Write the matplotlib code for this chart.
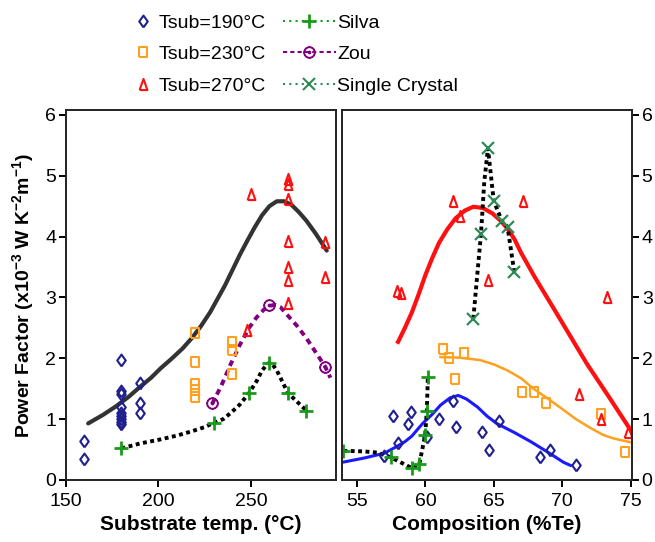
import numpy as np
import matplotlib
matplotlib.use("Agg")
import matplotlib.pyplot as plt
from matplotlib.lines import Line2D

plt.rcParams['font.family'] = ['Liberation Sans', 'DejaVu Sans']
plt.rcParams['mathtext.fontset'] = 'custom'
plt.rcParams['mathtext.rm'] = 'Liberation Sans'
plt.rcParams['mathtext.bf'] = 'Liberation Sans:bold'

# ---- left panel: power factor vs substrate temperature ----
t190_x = [160, 160, 180, 180, 180, 180, 180, 180, 180, 180, 180, 190, 190, 190]
t190_y = [0.64, 0.34, 1.98, 1.47, 1.42, 1.2, 1.1, 1.05, 1.0, 0.96, 0.92, 1.6, 1.26, 1.1]
t230_x = [220, 220, 220, 220, 220, 240, 240, 240]
t230_y = [2.41, 1.94, 1.58, 1.48, 1.36, 2.26, 2.13, 1.74]
t270_x = [250, 248, 270, 270, 270, 270, 270, 270, 270, 290, 290]
t270_y = [4.7, 2.46, 4.95, 4.87, 4.62, 3.92, 3.5, 3.28, 2.91, 3.91, 3.33]

silva_T_x = [180, 230, 249, 260, 270, 280]
silva_T_y = [0.52, 0.94, 1.43, 1.93, 1.43, 1.14]
silva_T_line_x = [180, 190, 200, 210, 218, 225, 230, 235, 239, 244, 249, 253, 256, 259, 261, 264, 270, 280]
silva_T_line_y = [0.52, 0.6, 0.66, 0.73, 0.8, 0.87, 0.94, 1.0, 1.1, 1.24, 1.43, 1.62, 1.8, 1.91, 1.93, 1.8, 1.43, 1.14]

zou_x = [229, 260, 290]
zou_y = [1.26, 2.87, 1.85]
zou_line_x = [229, 234, 239, 244, 249, 253, 257, 260, 263, 266, 270, 275, 280, 285, 290, 293]
zou_line_y = [1.25, 1.55, 1.9, 2.22, 2.5, 2.67, 2.8, 2.86, 2.88, 2.84, 2.7, 2.53, 2.33, 2.1, 1.87, 1.68]

fitT_x = [162, 170, 177, 184, 190, 196, 201, 207, 213, 218, 223, 228, 232, 236, 240, 244, 248, 252, 256, 260, 264, 268, 272, 276, 280, 285, 291]
fitT_y = [0.93, 1.07, 1.21, 1.37, 1.53, 1.68, 1.83, 1.99, 2.16, 2.33, 2.53, 2.76, 2.98, 3.2, 3.45, 3.7, 3.93, 4.15, 4.35, 4.5, 4.58, 4.58, 4.52, 4.4, 4.26, 4.05, 3.77]

# ---- right panel: power factor vs composition ----
c190_x = [57.0, 57.66, 57.98, 58.7, 58.95, 60.1, 60.96, 62.05, 62.2, 64.1, 64.65, 65.4, 68.4, 69.1, 71.0]
c190_y = [0.39, 1.05, 0.6, 0.92, 1.11, 0.71, 1.0, 1.3, 0.87, 0.79, 0.5, 0.97, 0.37, 0.5, 0.25]
c230_x = [61.3, 61.74, 62.8, 62.13, 67.07, 67.9, 68.8, 72.8, 74.6]
c230_y = [2.16, 2.01, 2.08, 1.66, 1.45, 1.45, 1.27, 1.08, 0.46]
c270_x = [62.05, 62.5, 67.1, 64.6, 57.9, 58.2, 73.24, 71.2, 72.8, 74.83]
c270_y = [4.59, 4.33, 4.59, 3.28, 3.11, 3.08, 3.0, 1.42, 1.01, 0.79]

silva_C_x = [54.0, 57.5, 59.05, 59.56, 59.98, 60.1, 60.18]
silva_C_y = [0.48, 0.37, 0.19, 0.27, 0.74, 1.14, 1.7]
silva_C_line_x = [54.0, 55.5, 56.5, 57.5, 59.05, 59.56, 59.98, 60.1, 60.18]
silva_C_line_y = [0.48, 0.47, 0.45, 0.37, 0.19, 0.27, 0.74, 1.14, 1.7]

sc_x = [63.5, 64.06, 64.57, 64.99, 65.6, 66.0, 66.5]
sc_y = [2.65, 4.04, 5.45, 4.59, 4.25, 4.16, 3.41]
sc_line_x = [63.5, 63.8, 64.06, 64.3, 64.57, 64.99, 65.6, 66.0, 66.5]
sc_line_y = [2.65, 3.4, 4.04, 4.9, 5.45, 4.59, 4.25, 4.16, 3.41]

fit190_x = [53.9, 55.5, 57.0, 57.9, 58.5, 59.0, 59.8, 60.5, 61.1, 61.8, 62.4, 63.0, 63.8, 64.5, 65.2, 66.5, 67.7, 69.0, 70.1, 70.6]
fit190_y = [0.29, 0.36, 0.44, 0.55, 0.63, 0.72, 0.93, 1.08, 1.23, 1.35, 1.39, 1.33, 1.2, 1.05, 0.93, 0.78, 0.63, 0.45, 0.29, 0.24]
fit230_x = [61.1, 62.5, 64.0, 65.0, 66.0, 67.0, 67.9, 69.0, 70.1, 71.0, 72.1, 73.0, 73.8, 75.0]
fit230_y = [2.02, 2.01, 1.97, 1.9, 1.8, 1.67, 1.5, 1.33, 1.15, 1.0, 0.85, 0.74, 0.68, 0.62]
fit270_x = [58.0, 58.5, 59.0, 59.5, 60.0, 60.5, 61.0, 61.6, 62.2, 62.9, 63.5, 64.2, 64.9, 65.5, 66.0, 66.5, 67.0, 68.0, 69.4, 70.6, 71.8, 73.4, 75.0]
fit270_y = [2.27, 2.5, 2.75, 3.05, 3.37, 3.65, 3.9, 4.12, 4.3, 4.43, 4.49, 4.47, 4.38, 4.26, 4.13, 3.96, 3.73, 3.33, 2.81, 2.36, 1.91, 1.37, 0.82]

navy = '#1f1f8f'
orange = '#ffa01e'
red = '#ff1010'
green = '#1a9a1a'
purple = '#800080'
teal = '#2e8b57'

# tall open markers (the original figure is slightly stretched vertically)
diamond = [(0, -1), (0.72, 0), (0, 1), (-0.72, 0), (0, -1)]
square = [(-0.75, -1), (0.75, -1), (0.75, 1), (-0.75, 1), (-0.75, -1)]
triangle = [(-0.7, -1), (0.7, -1), (0, 1), (-0.7, -1)]

fig = plt.figure(figsize=(6.55, 5.42), dpi=100)
ax1 = fig.add_axes([66 / 655, 1 - 480 / 542, 270 / 655, 370 / 542])
ax2 = fig.add_axes([342 / 655, 1 - 480 / 542, 290 / 655, 370 / 542])

mk = dict(linestyle='none', markerfacecolor='none', markeredgewidth=1.5)
dots = (0, (1.0, 0.9))

# left
ax1.plot(fitT_x, fitT_y, color='#333333', lw=3, solid_capstyle='round')
ax1.plot(zou_line_x, zou_line_y, color=purple, lw=2.8, linestyle=(0, (1.5, 1.2)))
ax1.plot(silva_T_line_x, silva_T_line_y, color='black', lw=2.8, linestyle=dots)
ax1.plot(t190_x, t190_y, marker=diamond, ms=8.5, color=navy, **mk)
ax1.plot(t230_x, t230_y, marker=square, ms=7.5, color=orange, **mk)
ax1.plot(t270_x, t270_y, marker=triangle, ms=8, color=red, **mk)
ax1.plot(silva_T_x, silva_T_y, marker='+', ms=10, color=green, linestyle='none', markeredgewidth=2)
ax1.plot(zou_x, zou_y, marker=r'$\odot$', ms=8, color=purple, linestyle='none')

ax1.set_xlim(150, 296)
ax1.set_ylim(0, 6.08)
ax1.set_xticks([150, 200, 250])
ax1.set_yticks(range(0, 7))
ax1.set_xlabel('Substrate temp. (°C)', fontsize=15, fontweight='bold', labelpad=4)
ax1.set_ylabel(r'Power Factor (x10$^{\mathbf{-3}}$ W K$^{\mathbf{-2}}$m$^{\mathbf{-1}}$)',
               fontsize=14, fontweight='bold', labelpad=6)

# right
ax2.plot(fit190_x, fit190_y, color='#1a1aff', lw=2.2)
ax2.plot(fit230_x, fit230_y, color=orange, lw=1.8)
ax2.plot(fit270_x, fit270_y, color=red, lw=3)
ax2.plot(silva_C_line_x, silva_C_line_y, color='black', lw=2.8, linestyle=dots)
ax2.plot(sc_line_x, sc_line_y, color='black', lw=2.8, linestyle=dots)
ax2.plot(c190_x, c190_y, marker=diamond, ms=8.5, color=navy, **mk)
ax2.plot(c230_x, c230_y, marker=square, ms=7.5, color=orange, **mk)
ax2.plot(c270_x, c270_y, marker=triangle, ms=8, color=red, **mk)
ax2.plot(silva_C_x, silva_C_y, marker='+', ms=10, color=green, linestyle='none', markeredgewidth=2)
ax2.plot(sc_x, sc_y, marker='x', ms=8, color=teal, linestyle='none', markeredgewidth=1.6)

ax2.set_xlim(53.9, 75.1)
ax2.set_ylim(0, 6.08)
ax2.set_xticks([55, 60, 65, 70, 75])
ax2.set_yticks(range(0, 7))
ax2.yaxis.tick_right()
ax2.set_xlabel('Composition (%Te)', fontsize=15, fontweight='bold', labelpad=4)

for ax in (ax1, ax2):
    for s in ax.spines.values():
        s.set_linewidth(1.4)
        s.set_color('#222222')
    ax.tick_params(direction='out', length=5, width=1.4, labelsize=14, pad=2)
ax1.tick_params(axis='x', pad=4)
ax2.tick_params(axis='x', pad=4)

# legends
h1 = [Line2D([], [], marker=diamond, ms=8.5, color=navy, **mk),
      Line2D([], [], marker=square, ms=7.5, color=orange, **mk),
      Line2D([], [], marker=triangle, ms=8, color=red, **mk)]
l1 = ['Tsub=190°C', 'Tsub=230°C', 'Tsub=270°C']
h2 = [Line2D([], [], color=green, lw=1.5, linestyle=(0, (1, 2)), marker='+', ms=10, markeredgewidth=2),
      Line2D([], [], color=purple, lw=1.5, linestyle=(0, (2, 1.5)), marker=r'$\odot$', ms=8),
      Line2D([], [], color=teal, lw=1.5, linestyle=(0, (1, 2)), marker='x', ms=8, markeredgewidth=1.5)]
l2 = ['Silva', 'Zou', 'Single Crystal']

kw = dict(loc='upper left', frameon=False, fontsize=14, borderpad=0, labelspacing=0.72, borderaxespad=0)
fig.legend(h1, l1, bbox_to_anchor=(133 / 655, 1 - 14 / 542), handlelength=1.0, handletextpad=0.3, **kw)
fig.legend(h2, l2, bbox_to_anchor=(283 / 655, 1 - 14 / 542), handlelength=2.7, handletextpad=0.1, **kw)

fig.savefig('out.png', dpi=100)
